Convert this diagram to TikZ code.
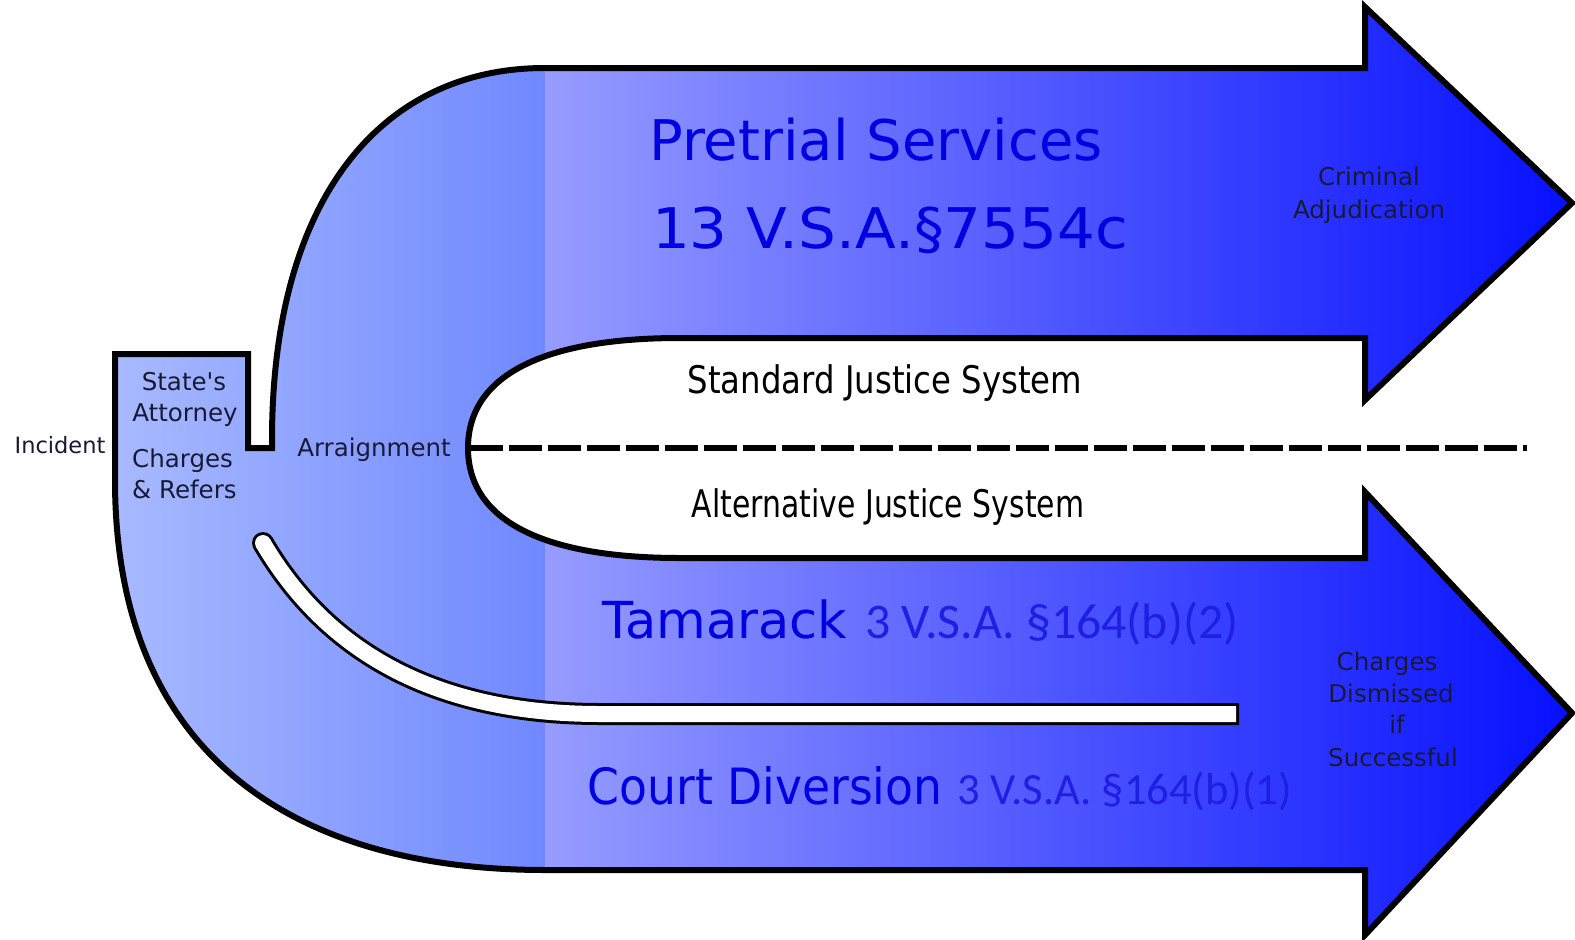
\documentclass[tikz,border=0pt]{standalone}
\usepackage{fontspec}
\setmainfont{DejaVu Sans}
\newfontfamily\calfont{Carlito}
\definecolor{gA}{RGB}{168,186,255}
\definecolor{gB}{RGB}{112,136,255}
\definecolor{gC}{RGB}{150,156,255}
\definecolor{gD}{RGB}{5,15,255}
\definecolor{labelc}{RGB}{25,25,55}
\definecolor{bluec}{RGB}{0,0,225}
\definecolor{bluel}{RGB}{30,30,228}
\def\shapepath{(545,68) -- (1365,68) -- (1365,7) -- (1572,203) -- (1365,400) -- (1365,338) -- (680,338) .. controls (542,338) and (468,376) .. (468,448) .. controls (468,520) and (542,558) .. (680,558) -- (1365,558) -- (1365,492) -- (1572,713) -- (1365,935) -- (1365,870) -- (545,870) .. controls (300,870) and (115,760) .. (115,480) -- (115,354) -- (248,354) -- (248,448) -- (272,448) -- (272,440) .. controls (272,200) and (380,68) .. (545,68) -- cycle}
\tikzset{
  lbl/.style={inner sep=0pt, anchor=base, text=labelc, font=\fontsize{24.5}{28}\selectfont},
  bigt/.style={inner sep=0pt, anchor=base, text=bluec},
  sidet/.style={inner sep=0pt, anchor=base, text=bluel},
  blackt/.style={inner sep=0pt, anchor=base, text=black},
  outline/.style={line width=6pt, line join=miter, miter limit=10}
}
\begin{document}
\begin{tikzpicture}[x=1pt,y=-1pt]
\useasboundingbox (0,0) rectangle (1575,940);
\fill[white] (0,0) rectangle (1575,940);
% gradient body
\begin{scope}
  \clip \shapepath;
  \shade[left color=gA, right color=gB] (113,0) rectangle (545,940);
  \shade[left color=gC, right color=gD] (545,0) rectangle (1575,940);
\end{scope}
\draw[outline] \shapepath;
% white slot
\coordinate (slotA) at (263,543);
\coordinate (slotB) at (600,714);
\coordinate (slotC) at (1236,714);
\coordinate (slotD) at (1239,714);
\draw[line width=22pt, black] (slotA) .. controls (320,640) and (420,714) .. (slotB) -- (slotD);
\fill[black] (slotA) circle (11);
\draw[line width=16pt, white] (slotA) .. controls (320,640) and (420,714) .. (slotB) -- (slotC);
\fill[white] (slotA) circle (8);
% dashed divider
\coordinate (dashL) at (470,448);
\coordinate (dashR) at (1527,448);
\draw[line width=6pt, dash pattern=on 33pt off 6pt] (dashL) -- (dashR);
% labels
\node[lbl, font=\fontsize{22.5}{26}\selectfont] (incident) at (60,453) {Incident};
\node[lbl] (sa1) at (184,390) {State\textquotesingle s};
\node[lbl] (sa2) at (185,421) {Attorney};
\node[lbl, anchor=base west] (cr1) at (132,467) {Charges};
\node[lbl, anchor=base west] (cr2) at (132,498) {\& Refers};
\node[lbl] (arr) at (374,456) {Arraignment};
\node[lbl] (ca1) at (1369,185) {Criminal};
\node[lbl] (ca2) at (1369,218) {Adjudication};
\node[lbl] (cd1) at (1387,670) {Charges};
\node[lbl] (cd2) at (1391,702) {Dismissed};
\node[lbl] (cd3) at (1397,733) {if};
\node[lbl] (cd4) at (1393,766) {Successful};
% big texts
\node[bigt, font=\fontsize{56}{60}\selectfont] (pre) at (876,160) {Pretrial Services};
\node[bigt, font=\fontsize{56}{60}\selectfont] (vsa) at (890,248) {\scalebox{1.063}[1]{13 V.S.A.§7554c}};
\node[blackt, font=\fontsize{38}{42}\selectfont] (sjs) at (885,393) {\scalebox{0.851}[1]{Standard Justice System}};
\node[blackt, font=\fontsize{38}{42}\selectfont] (ajs) at (888,517) {\scalebox{0.786}[1]{Alternative Justice System}};
\node[bigt, font=\fontsize{51}{55}\selectfont] (tam) at (725,638) {Tamarack};
\node[sidet, font=\calfont\fontsize{49.8}{54}\selectfont] (tamx) at (1052,638) {3 V.S.A. §164(b)(2)};
\node[bigt, font=\fontsize{50}{54}\selectfont] (cdv) at (765,804) {\scalebox{0.913}[1]{Court Diversion}};
\node[sidet, font=\calfont\fontsize{44.6}{48}\selectfont] (cdvx) at (1125,804) {3 V.S.A. §164(b)(1)};
\end{tikzpicture}
\end{document}
